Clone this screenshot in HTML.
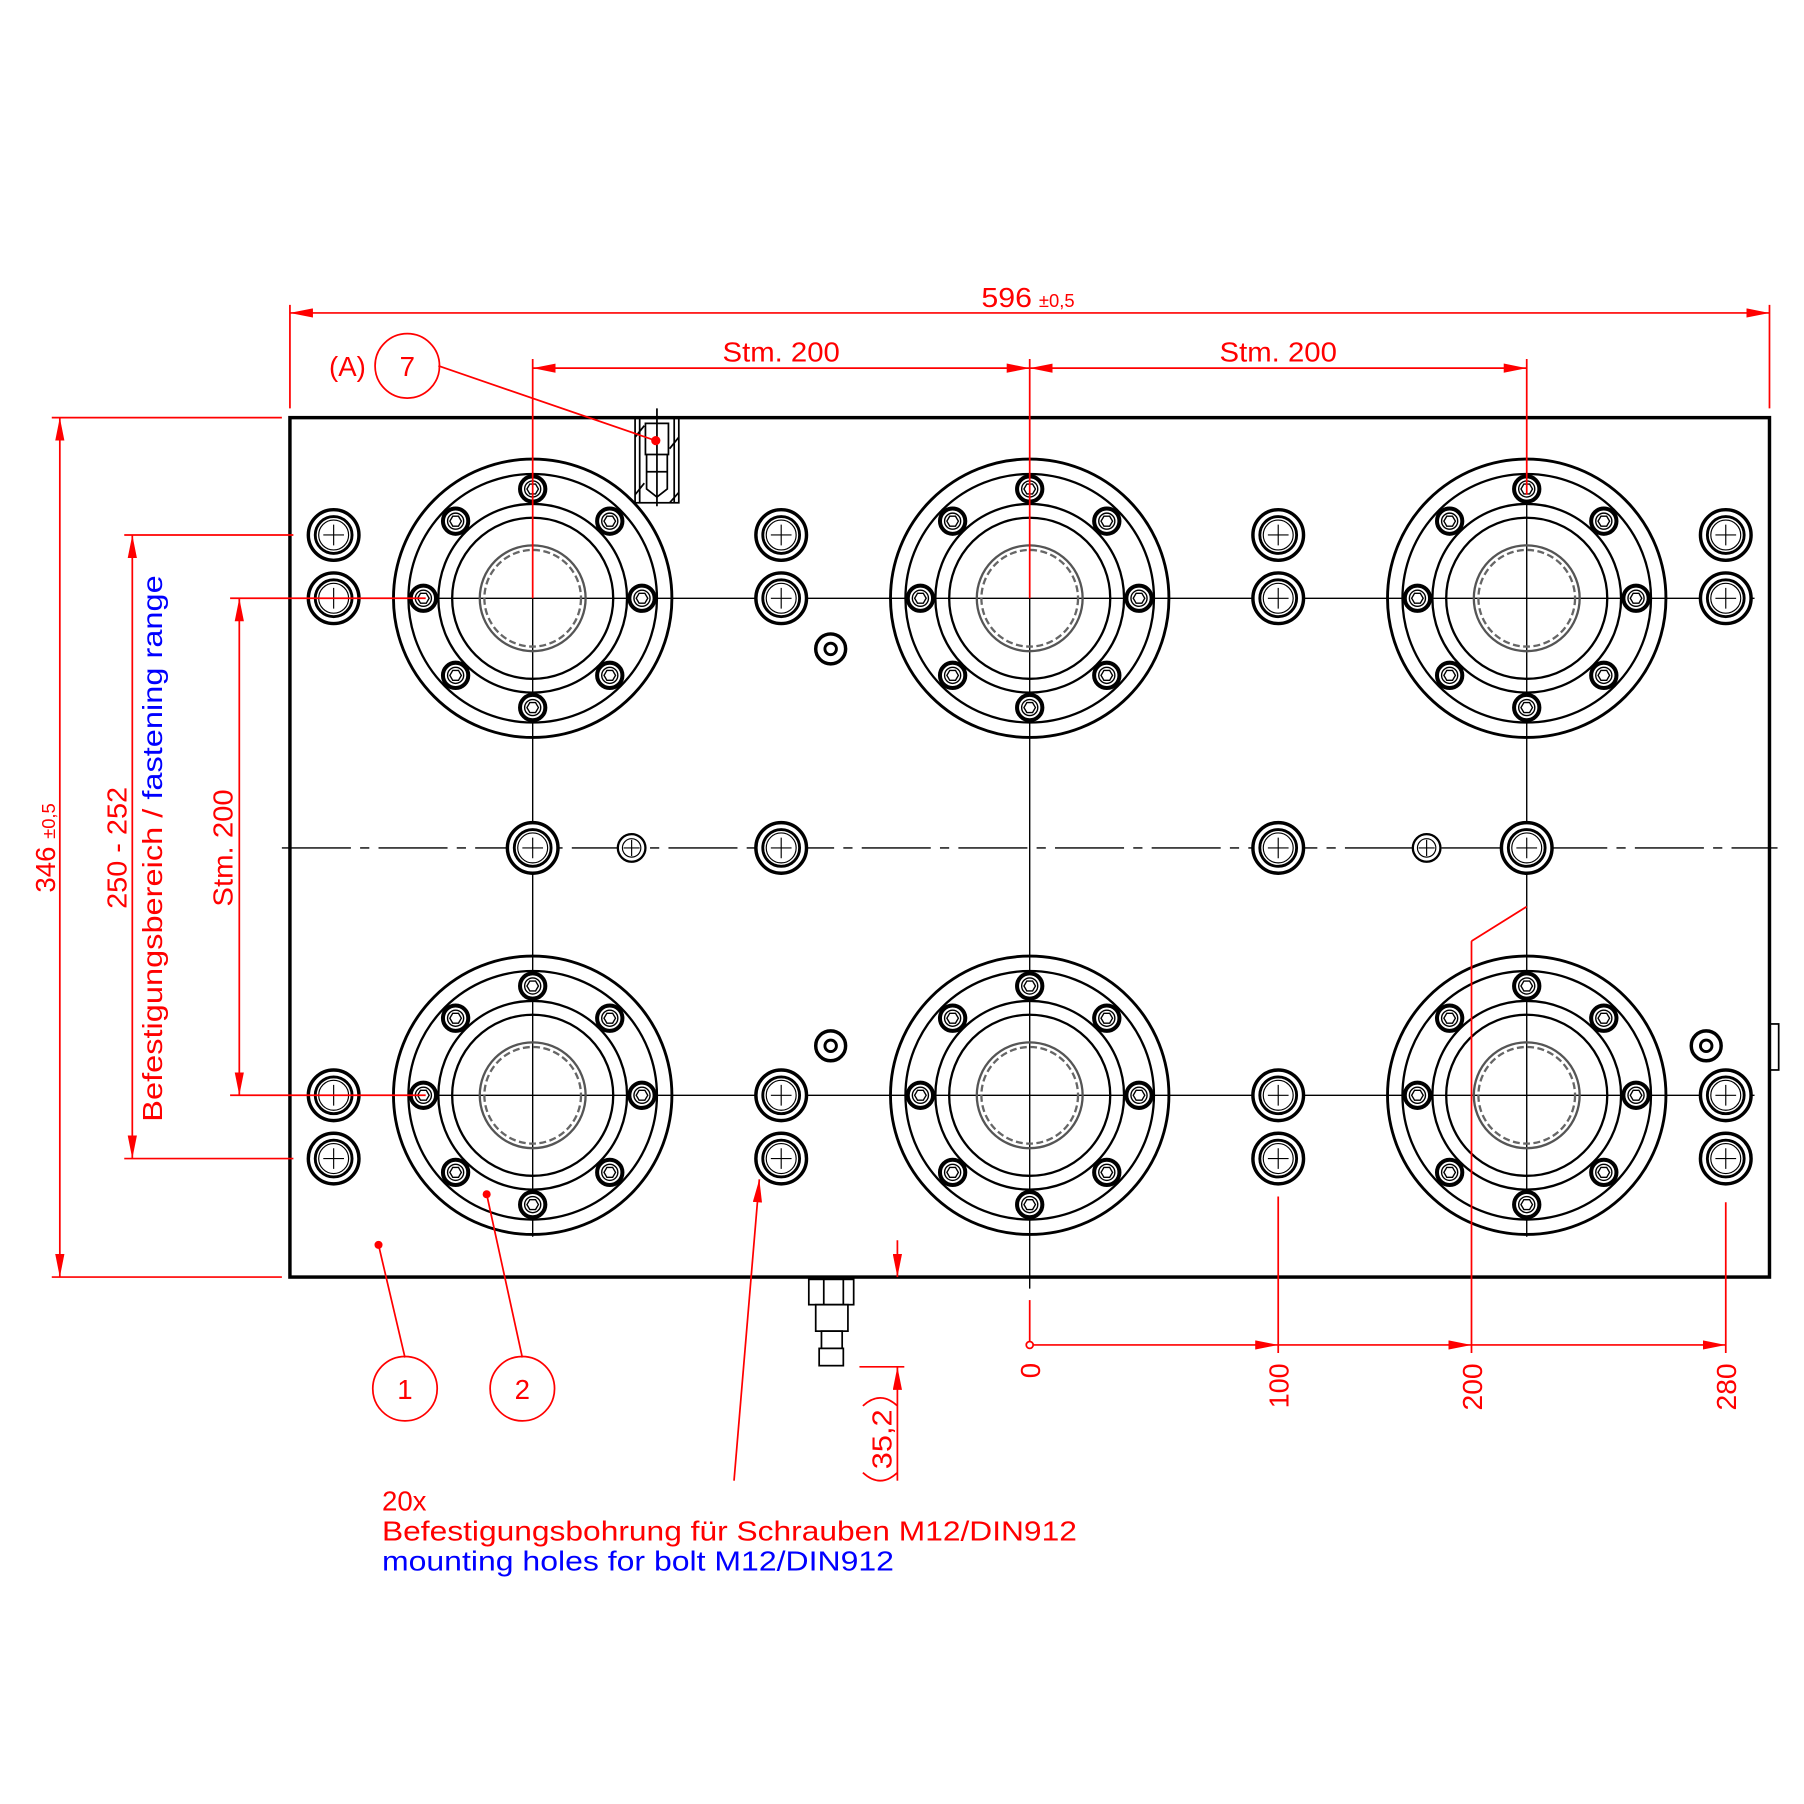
<!DOCTYPE html>
<html><head><meta charset="utf-8"><style>html,body{margin:0;padding:0;background:#fff}svg{display:block}</style></head>
<body>
<svg width="1804" height="1804" viewBox="0 0 1568 1568" xmlns="http://www.w3.org/2000/svg" font-family="Liberation Sans, sans-serif">
<defs>
<g id="bolt">
<circle r="11" fill="#fff" stroke="#000" stroke-width="3.5"/>
<circle r="7" fill="none" stroke="#000" stroke-width="1.2"/>
<polygon points="5,0 2.5,4.3 -2.5,4.3 -5,0 -2.5,-4.3 2.5,-4.3" fill="none" stroke="#000" stroke-width="1.2"/>
</g>
<g id="flange">
<circle r="121" fill="none" stroke="#000" stroke-width="2.5"/>
<circle r="108" fill="none" stroke="#000" stroke-width="2"/>
<circle r="82" fill="none" stroke="#000" stroke-width="2"/>
<circle r="70" fill="none" stroke="#000" stroke-width="2"/>
<circle r="46" fill="none" stroke="#555" stroke-width="2"/>
<circle r="42" fill="none" stroke="#666" stroke-width="2" stroke-dasharray="6,3"/>
<use href="#bolt" x="0" y="-95"/><use href="#bolt" x="0" y="95"/>
<use href="#bolt" x="-95" y="0"/><use href="#bolt" x="95" y="0"/>
<use href="#bolt" x="-67" y="-67"/><use href="#bolt" x="67" y="-67"/>
<use href="#bolt" x="-67" y="67"/><use href="#bolt" x="67" y="67"/>
</g>
<g id="hole">
<circle r="22" fill="#fff" stroke="#000" stroke-width="3"/>
<circle r="16" fill="none" stroke="#000" stroke-width="2.5"/>
<circle r="13" fill="none" stroke="#000" stroke-width="1"/>
<path d="M-9,0H9M0,-9V9" stroke="#000" stroke-width="1"/>
</g>
<g id="small">
<circle r="12" fill="#fff" stroke="#000" stroke-width="2"/>
<circle r="8" fill="none" stroke="#000" stroke-width="1"/>
<path d="M-7,0H7M0,-7V7" stroke="#000" stroke-width="1"/>
</g>
<g id="ring">
<circle r="13" fill="#fff" stroke="#000" stroke-width="3"/>
<circle r="5" fill="none" stroke="#000" stroke-width="2.5"/>
</g>
<marker id="ar" viewBox="0 0 20 8" refX="20" refY="4" markerWidth="20" markerHeight="8" markerUnits="userSpaceOnUse" orient="auto-start-reverse"><path d="M0,0L20,4L0,8z" fill="#f00"/></marker>
</defs>

<rect x="252" y="363" width="1286" height="747" fill="none" stroke="#000" stroke-width="3"/>
<rect x="1538" y="890" width="8" height="40" fill="none" stroke="#000" stroke-width="1.5"/>

<g stroke="#000" stroke-width="1.2" fill="none">
<path d="M270,520H1525M270,952H1525"/>
<path d="M245,737H1545" stroke-dasharray="60,8,8,8"/>
<path d="M463,520V1075M895,430V1120M1327,430V1075"/>
</g>

<use href="#flange" x="463" y="520"/><use href="#flange" x="895" y="520"/><use href="#flange" x="1327" y="520"/>
<use href="#flange" x="463" y="952"/><use href="#flange" x="895" y="952"/><use href="#flange" x="1327" y="952"/>

<g>
<use href="#hole" x="290" y="465"/><use href="#hole" x="290" y="520"/><use href="#hole" x="290" y="952"/><use href="#hole" x="290" y="1007"/>
<use href="#hole" x="679" y="465"/><use href="#hole" x="679" y="520"/><use href="#hole" x="679" y="952"/><use href="#hole" x="679" y="1007"/>
<use href="#hole" x="1111" y="465"/><use href="#hole" x="1111" y="520"/><use href="#hole" x="1111" y="952"/><use href="#hole" x="1111" y="1007"/>
<use href="#hole" x="1500" y="465"/><use href="#hole" x="1500" y="520"/><use href="#hole" x="1500" y="952"/><use href="#hole" x="1500" y="1007"/>
<use href="#hole" x="463" y="737"/><use href="#hole" x="679" y="737"/><use href="#hole" x="1111" y="737"/><use href="#hole" x="1327" y="737"/>
<use href="#small" x="549" y="737"/><use href="#small" x="1240" y="737"/>
<use href="#ring" x="722" y="564"/><use href="#ring" x="722" y="909"/><use href="#ring" x="1483" y="909"/>
</g>

<g stroke="#000" stroke-width="1.5" fill="none">
<rect x="552" y="363" width="38" height="74"/>
<path d="M556,363V437M586,363V437M571,355V440"/>
<path d="M561,368H581V395H561z M562,395H580V410H562z M562,410V425L571,432L580,425V410"/>
<path d="M552,380L560,370M582,390L590,380M552,430L560,420M582,437L590,428"/>
</g>
<g stroke="#000" stroke-width="1.5" fill="#fff">
<rect x="703" y="1112" width="39" height="22"/>
<path d="M716,1112V1134M733,1112V1134"/>
<rect x="709" y="1134" width="28" height="23"/>
<rect x="714" y="1157" width="18" height="15"/>
<rect x="712" y="1172" width="21" height="15"/>
</g>

<g stroke="#f00" stroke-width="1.5" fill="none">
<path d="M252,265V355M1538,265V355"/>
<path d="M252,272H1538" marker-start="url(#ar)" marker-end="url(#ar)"/>
<path d="M463,312V520M895,312V520M1327,312V430"/>
<path d="M463,320H895" marker-start="url(#ar)" marker-end="url(#ar)"/>
<path d="M895,320H1327" marker-start="url(#ar)" marker-end="url(#ar)"/>
<path d="M45,363H245M45,1110H245"/>
<path d="M52,363V1110" marker-start="url(#ar)" marker-end="url(#ar)"/>
<path d="M108,465H255M108,1007H255"/>
<path d="M115,465V1007" marker-start="url(#ar)" marker-end="url(#ar)"/>
<path d="M200,520H370M200,952H370"/>
<path d="M208,520V952" marker-start="url(#ar)" marker-end="url(#ar)"/>
<path d="M895,1130V1168"/>
<path d="M1111,1040V1176M1279,818V1176M1279,818L1327,788M1500,1045V1176"/>
<path d="M895,1169H1111" marker-end="url(#ar)"/>
<path d="M1111,1169H1279" marker-end="url(#ar)"/>
<path d="M1279,1169H1500" marker-end="url(#ar)"/>
<path d="M780,1078V1110" marker-end="url(#ar)"/>
<path d="M747,1188H786"/>
<path d="M780,1287V1188" marker-end="url(#ar)"/>
<path d="M381,318L570,383M352,1180L329,1082M454,1180L423,1038"/>
<path d="M638,1287L660,1025" marker-end="url(#ar)"/>
<circle cx="354" cy="318" r="28"/><circle cx="352" cy="1207" r="28"/><circle cx="454" cy="1207" r="28"/>
<path d="M750,1222Q765,1208 780,1222M750,1280Q765,1294 780,1280"/>
</g>
<circle cx="895" cy="1169" r="3" fill="#fff" stroke="#f00" stroke-width="1.5"/>
<circle cx="570" cy="383" r="4" fill="#f00"/><circle cx="329" cy="1082" r="3.5" fill="#f00"/><circle cx="423" cy="1038" r="3.5" fill="#f00"/>

<g fill="#f00" font-size="24">
<text x="853" y="267" textLength="44" lengthAdjust="spacingAndGlyphs">596</text><text x="903" y="267" font-size="16">±0,5</text>
<text x="628" y="314" textLength="102" lengthAdjust="spacingAndGlyphs">Stm. 200</text>
<text x="1060" y="314" textLength="102" lengthAdjust="spacingAndGlyphs">Stm. 200</text>
<text x="302" y="327" text-anchor="middle">(A)</text>
<text x="354" y="327" text-anchor="middle">7</text>
<text x="352" y="1216" text-anchor="middle">1</text>
<text x="454" y="1216" text-anchor="middle">2</text>
<text transform="translate(48,737) rotate(-90)" text-anchor="middle">346 <tspan font-size="16">±0,5</tspan></text>
<text transform="translate(110,790) rotate(-90)" textLength="106" lengthAdjust="spacingAndGlyphs">250 - 252</text>
<text transform="translate(141,975) rotate(-90)" textLength="475" lengthAdjust="spacingAndGlyphs">Befestigungsbereich / <tspan fill="#00f">fastening range</tspan></text>
<text transform="translate(202,788) rotate(-90)" textLength="102" lengthAdjust="spacingAndGlyphs">Stm. 200</text>
<text transform="translate(904,1198) rotate(-90)">0</text>
<text transform="translate(1120,1224) rotate(-90)" textLength="39" lengthAdjust="spacingAndGlyphs">100</text>
<text transform="translate(1288,1226) rotate(-90)" textLength="41" lengthAdjust="spacingAndGlyphs">200</text>
<text transform="translate(1509,1226) rotate(-90)" textLength="41" lengthAdjust="spacingAndGlyphs">280</text>
<text transform="translate(775,1277) rotate(-90)" textLength="52" lengthAdjust="spacingAndGlyphs">35,2</text>
<text x="332" y="1313">20x</text>
<text x="332" y="1339" textLength="604" lengthAdjust="spacingAndGlyphs">Befestigungsbohrung für Schrauben M12/DIN912</text>
<text x="332" y="1365" fill="#00f" textLength="445" lengthAdjust="spacingAndGlyphs">mounting holes for bolt M12/DIN912</text>
</g>
</svg>
</body></html>
